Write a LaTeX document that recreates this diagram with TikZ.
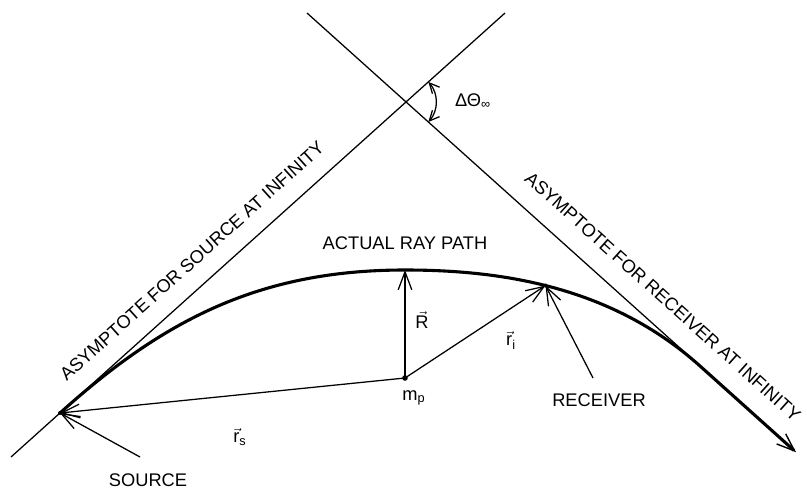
\documentclass[tikz,border=0pt]{standalone}
\usepackage{amsmath}
\usepackage{fontspec}
\setmainfont{Liberation Sans}
\usepackage{tikz}
\usetikzlibrary{positioning, arrows.meta, calc}

\begin{document}
\begin{tikzpicture}[
  asym/.style={line width=0.9pt},
  ray/.style={line width=2.2pt, -{Straight Barb[length=4.5mm, width=3.4mm, line width=1pt]}},
  vecarrow/.style={line width=0.9pt, -{Straight Barb[length=4.5mm, width=3.4mm]}},
  anglearrow/.style={line width=0.9pt, {Straight Barb[length=2.5mm, width=2.4mm]}-{Straight Barb[length=2.5mm, width=2.4mm]}},
  lbl/.style={font=\fontsize{13}{15}\selectfont, inner sep=0pt},
  dot/.style={circle, fill, inner sep=0pt, minimum size=1.4mm},
]
  \useasboundingbox (0,0) rectangle (20.175,12.225);

  % asymptotes
  \coordinate (srcinf) at (0.275,0.8);
  \coordinate (srcend) at (12.625,11.9);
  \coordinate (rcvbeg) at (7.675,11.9);
  \coordinate (merge) at (17.5,3.075);
  \coordinate (tip) at (19.9,0.92);
  \coordinate (cross) at (intersection of srcinf--srcend and rcvbeg--merge);
  \draw[asym] (srcinf) -- (srcend);
  \draw[asym] (rcvbeg) -- (merge);

  % ray path
  \coordinate (src) at (1.5,1.9);
  \coordinate (top) at (10.125,5.475);
  \coordinate (mp) at (10.125,2.775);
  \draw[ray] (src) .. controls +(41.95:3.5) and (6.5,5.475) .. (top)
    .. controls (12.5,5.475) and ($(merge)+(138.1:3)$) .. (merge)
    coordinate[pos=0.47] (rcv) -- (tip);

  % vectors from m_p
  \draw[vecarrow] (mp) -- (top);
  \draw[vecarrow] (mp) -- (rcv);
  \draw[vecarrow] (mp) -- (src);
  \node[dot] (mpdot) at (mp) {};
  \node[dot, minimum size=1mm] (srcdot) at (src) {};
  \node[dot, minimum size=1mm] (rcvdot) at (rcv) {};

  % pointers
  \coordinate (srcptr) at (3.5,0.8);
  \coordinate (rcvptr) at (14.825,2.775);
  \draw[vecarrow] (srcptr) -- (src);
  \draw[vecarrow] (rcvptr) -- (rcv);

  % deflection angle
  \draw[anglearrow] ($(cross)+(41.95:0.75)$) arc[start angle=41.95, end angle=-41.9, radius=0.75];

  % labels
  \node[lbl, above=5mm of top] (pathlbl) {ACTUAL RAY PATH};
  \node[lbl] (rlbl) at (10.55,4.225) {$\vec{\text{R}}$};
  \node[lbl] (rilbl) at (12.775,3.725) {$\vec{\text{r}}_{\text{i}}$};
  \node[lbl] (rslbl) at (6.0,1.3) {$\vec{\text{r}}_{\text{s}}$};
  \node[lbl] (mplbl) at (10.35,2.275) {m\textsubscript{p}};
  \node[lbl] (srclbl) at (3.7,0.225) {SOURCE};
  \node[lbl] (rcvlbl) at (14.975,2.225) {RECEIVER};
  \node[lbl] (anglbl) at (11.825,9.7) {ΔΘ\textsubscript{∞}};
  \path (srcinf) -- (srcend)
    node[lbl, sloped, pos=0.40, above=4.5mm] (srcasym) {ASYMPTOTE FOR SOURCE AT INFINITY};
  \path (rcvbeg) -- (merge)
    node[lbl, sloped, pos=0.86, above=5mm] (rcvasym) {ASYMPTOTE FOR RECEIVER AT INFINITY};
\end{tikzpicture}
\end{document}
